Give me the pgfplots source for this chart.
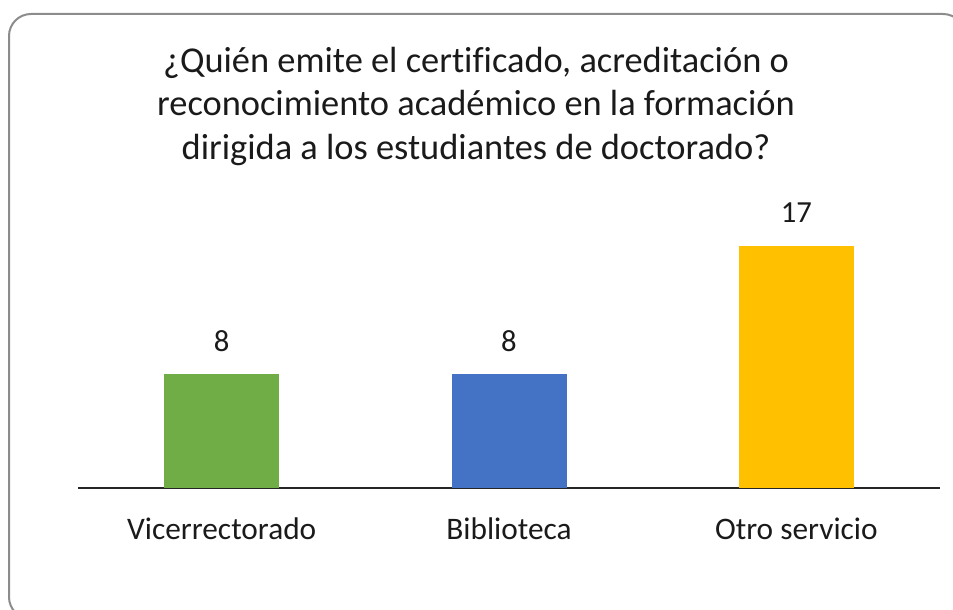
\documentclass[border=0pt]{standalone}
\usepackage{pgfplots}
\pgfplotsset{compat=1.18}
\usepackage{fontspec}
\setmainfont{Carlito}[Ligatures=NoCommon]
\definecolor{cgreen}{HTML}{70AD47}
\definecolor{cblue}{HTML}{4472C4}
\definecolor{corange}{HTML}{FFC000}
\definecolor{frame}{HTML}{8C8C8C}
\definecolor{txt}{HTML}{1A1A1A}
\begin{document}
\begin{tikzpicture}
\useasboundingbox (0,0) rectangle (714.75pt,457.5pt);
\draw[frame, line width=1.5pt, rounded corners=16.5pt] (6.75pt,447pt) rectangle (723.75pt,-6.75pt);
\node[anchor=base, font=\fontsize{27.3}{32}\selectfont, text=txt] at (357pt,403pt) {¿Quién emite el certificado, acreditación o};
\node[anchor=base, font=\fontsize{27.3}{32}\selectfont, text=txt] at (357pt,371pt) {reconocimiento académico en la formación};
\node[anchor=base, font=\fontsize{27.3}{32}\selectfont, text=txt] at (357pt,337.5pt) {dirigida a los estudiantes de doctorado?};
\begin{axis}[
  at={(58.5pt,91.5pt)}, anchor=south west,
  scale only axis, width=646.5pt, height=213.6pt,
  xmin=-0.5, xmax=2.5, ymin=0, ymax=20,
  axis x line*=bottom, hide y axis,
  x axis line style={line width=1.5pt, black!85},
  xtick={0,1,2}, xticklabels={Vicerrectorado,Biblioteca,Otro servicio},
  major tick length=0pt,
  xticklabel style={anchor=base, yshift=-38.5pt, font=\fontsize{23.5}{28}\selectfont, text=txt},
  ybar, bar width=86.25pt, bar shift=0pt,
  /pgf/number format/assume math mode=true,
  nodes near coords,
  every node near coord/.append style={anchor=base, inner sep=0pt, yshift=17.25pt, font=\fontsize{23}{28}\selectfont, text=txt},
  clip=false,
]
\addplot[fill=cgreen, draw=none] coordinates {(0,8)};
\addplot[fill=cblue, draw=none] coordinates {(1,8)};
\addplot[fill=corange, draw=none] coordinates {(2,17)};
\end{axis}
\end{tikzpicture}
\end{document}
